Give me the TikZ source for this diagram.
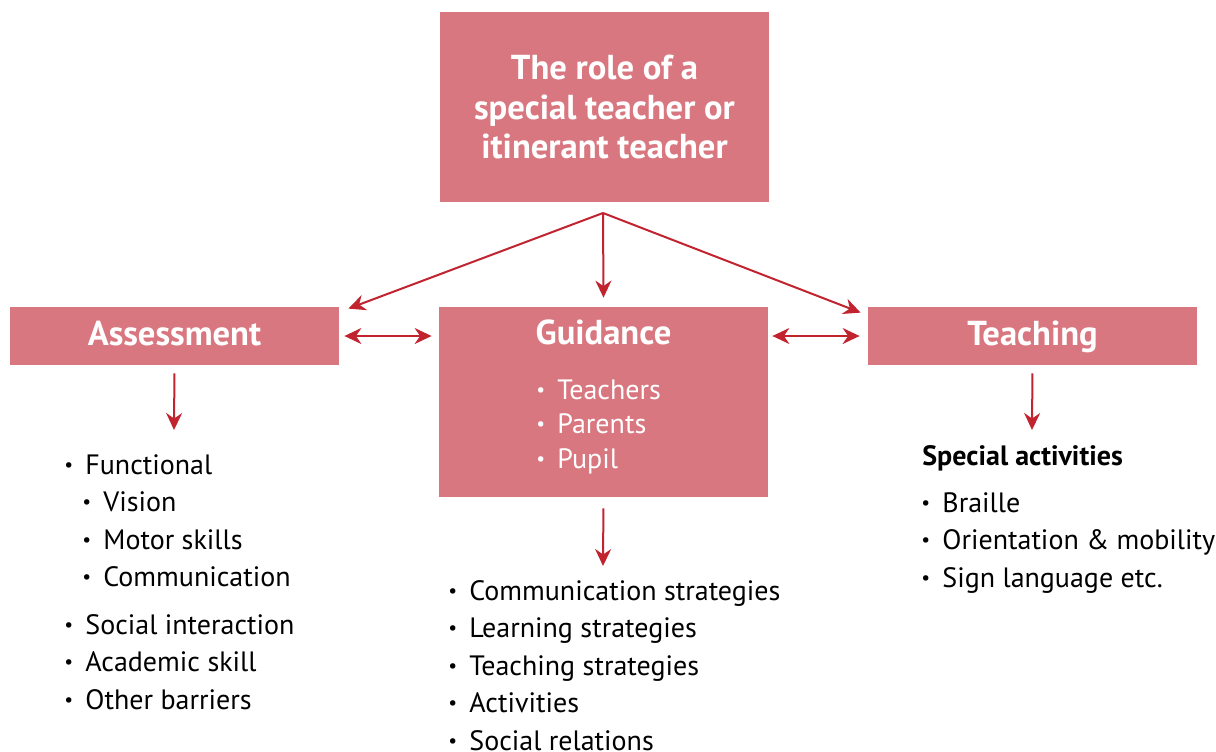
\documentclass[tikz,border=0pt]{standalone}
\usepackage{fontspec}
\setmainfont{PT Sans}
\usetikzlibrary{arrows.meta,positioning,calc}
\definecolor{boxpink}{HTML}{D97780}
\definecolor{arrowred}{HTML}{C1232F}
\newcommand{\bul}{\makebox[10.5pt][l]{\raisebox{0.1em}{\scalebox{0.7}{\textbullet}}}}
\newcommand{\subbul}{\hspace*{9pt}\bul}

\begin{document}
\begin{tikzpicture}[x=0.5pt, y=-0.5pt,
  box/.style={fill=boxpink, text=white, inner sep=0pt, minimum width=164.5pt, font=\bfseries\fontsize{17.3}{19.75}\selectfont},
  titlebox/.style={box, minimum height=29pt, text height=0.93em, text depth=0pt},
  arr/.style={-{Stealth[length=8.5pt, width=8pt]}, line width=1pt, arrowred},
  dblarr/.style={{Stealth[length=8.5pt, width=8pt]}-{Stealth[length=8.5pt, width=8pt]}, line width=1pt, arrowred},
  listtext/.style={inner sep=0pt, align=left, font=\fontsize{14}{18.75}\selectfont}]
\useasboundingbox (0,0) rectangle (1216,751);

% boxes
\node [box, minimum height=95pt, align=center] (role) at (604.5, 107) {The role of a\\special teacher or\\itinerant teacher};
\node [titlebox] (assess) at (174.5, 336) {Assessment};
\node [box, minimum height=95pt] (guid) at (603.5, 402) {};
\node [titlebox] (teach) at (1032.5, 336) {Teaching};

\node [titlebox, fill=none, minimum height=0pt] (guidtitle) at (603.5, 335) {Guidance};
% base anchor = last line
\node [listtext, text=white, anchor=base west, font=\fontsize{14}{17.25}\selectfont] (guidlist) at (536, 468) {\bul Teachers\\\bul Parents\\\bul Pupil};

% arrows from the top box
\coordinate (fork) at (603, 213);
\draw [arr] (fork) -- ($(assess.north east)+(9,2)$);
\draw [arr] (fork) -- ($(guid.north)+(0,-9)$);
\draw [arr] (fork) -- ($(teach.north west)+(-7,6)$);

\draw [dblarr, shorten <=2.5pt, shorten >=3.5pt] (assess.east) -- (guid.west |- assess.east);
\draw [dblarr, shorten <=2pt, shorten >=4pt] (guid.east |- teach.west) -- (teach.west);

% lists below
\coordinate (adown) at (174, 430);
\coordinate (gdown) at (603, 566);
\coordinate (tdown) at (1032, 430);
\draw [arr, shorten <=4pt] (assess.south) -- (adown);
\draw [arr, shorten <=5.5pt] (guid.south) -- (gdown);
\draw [arr, shorten <=4pt] (teach.south) -- (tdown);

\node [listtext, anchor=base west] (alist) at (64, 709) {\bul Functional\\\subbul Vision\\\subbul Motor skills\\\subbul Communication\\[5pt]\bul Social interaction\\\bul Academic skill\\\bul Other barriers};
\node [listtext, anchor=base west] (glist) at (448, 750) {\bul Communication strategies\\\bul Learning strategies\\\bul Teaching strategies\\\bul Activities\\\bul Social relations};
\node [listtext, anchor=base west, font=\bfseries\fontsize{14}{18.75}\selectfont] (special) at (922, 465) {Special activities};
\node [listtext, anchor=base west] (tlist) at (921, 587) {\bul Braille\\\bul Orientation \& mobility\\\bul Sign language etc.};
\end{tikzpicture}
\end{document}
